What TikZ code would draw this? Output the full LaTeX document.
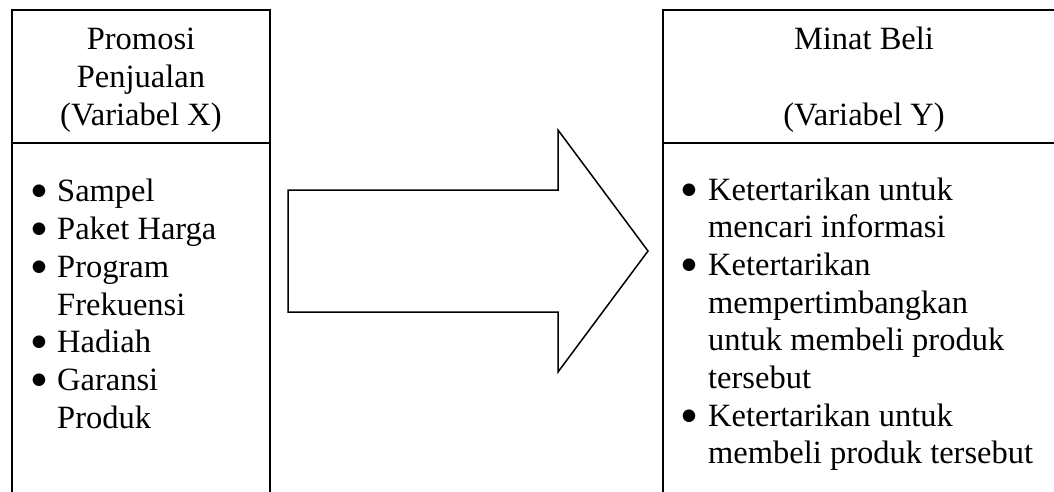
\documentclass[tikz,border=0pt]{standalone}
\usepackage{fontspec}
\setmainfont{Liberation Serif}
\newfontfamily\symfont{DejaVu Sans}
\begin{document}
\begin{tikzpicture}[x=1pt,y=-1pt,
  frame/.style={line width=1.5pt,draw=black},
  txt/.style={inner sep=0pt,font=\fontsize{32.5}{37.7}\selectfont},
  head/.style={txt,anchor=base},
  item/.style={txt,anchor=base west},
  bul/.style={inner sep=0pt,anchor=base,font=\symfont\fontsize{16.5}{16.5}\selectfont,yshift=5.5pt}]
\useasboundingbox (0,0) rectangle (1054,492);
% left box
\coordinate (LBL) at (12,494);
\coordinate (LTL) at (12,10);
\coordinate (LTR) at (270,10);
\coordinate (LBR) at (270,494);
\draw[frame] (LBL) -- (LTL) -- (LTR) -- (LBR);
\coordinate (LSL) at (12,143);
\coordinate (LSR) at (270,143);
\draw[frame] (LSL) -- (LSR);
% right box
\coordinate (RBL) at (663,494);
\coordinate (RTL) at (663,10);
\coordinate (RTR) at (1056,10);
\draw[frame] (RBL) -- (RTL) -- (RTR);
\coordinate (RSL) at (663,143);
\coordinate (RSR) at (1056,143);
\draw[frame] (RSL) -- (RSR);
% arrow
\draw[frame,line join=miter] (288,190) -- (558,190) -- (558,130) -- (648,251) -- (558,372) -- (558,312) -- (288,312) -- cycle;
% left header
\node[head] (lh1) at (141,50) {Promosi};
\node[head] (lh2) at (141,88) {Penjualan};
\node[head] (lh3) at (141,125) {(Variabel X)};
% right header
\node[head] (rh1) at (864,50) {Minat Beli};
\node[head] (rh3) at (864,125) {(Variabel Y)};
% left list
\node[bul] (lb1) at (39,201) {●};
\node[item] (li1) at (57,201) {Sampel};
\node[bul] (lb2) at (39,239) {●};
\node[item] (li2) at (57,239) {Paket Harga};
\node[bul] (lb3) at (39,277) {●};
\node[item] (li3) at (57,277) {Program};
\node[item] (li3b) at (57,315) {Frekuensi};
\node[bul] (lb4) at (39,352) {●};
\node[item] (li4) at (57,352) {Hadiah};
\node[bul] (lb5) at (39,390) {●};
\node[item] (li5) at (57,390) {Garansi};
\node[item] (li5b) at (57,428) {Produk};
% right list
\node[bul] (rb1) at (689,200) {●};
\node[item] (ri1) at (708,200) {Ketertarikan untuk};
\node[item] (ri1b) at (708,237) {mencari informasi};
\node[bul] (rb2) at (689,275) {●};
\node[item] (ri2) at (708,275) {Ketertarikan};
\node[item] (ri2b) at (708,313) {mempertimbangkan};
\node[item] (ri2c) at (708,350) {untuk membeli produk};
\node[item] (ri2d) at (708,388) {tersebut};
\node[bul] (rb3) at (689,426) {●};
\node[item] (ri3) at (708,426) {Ketertarikan untuk};
\node[item] (ri3b) at (708,463) {membeli produk tersebut};
\end{tikzpicture}
\end{document}
